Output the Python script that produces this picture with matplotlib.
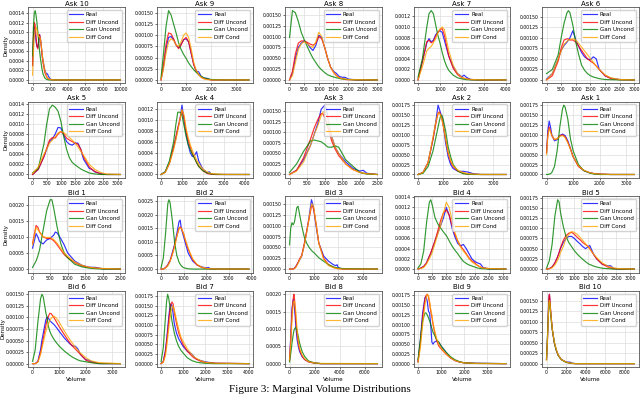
import matplotlib
matplotlib.use("Agg")
import matplotlib.pyplot as plt
from matplotlib.ticker import MaxNLocator

# density values are given in units of 1e-4
DENSITY_UNIT = 1e-4
SERIES_NAMES = ["Real", "Diff Uncond", "Gan Uncond", "Diff Cond"]
SERIES_COLORS = ["blue", "red", "green", "orange"]
TITLES = ["Ask 10", "Ask 9", "Ask 8", "Ask 7", "Ask 6",
          "Ask 5", "Ask 4", "Ask 3", "Ask 2", "Ask 1",
          "Bid 1", "Bid 2", "Bid 3", "Bid 4", "Bid 5",
          "Bid 6", "Bid 7", "Bid 8", "Bid 9", "Bid 10"]

ASK10_X = [0, 100, 200, 300, 400, 500, 600, 700, 800, 900, 1000, 1100, 1200, 1400, 1600, 1700, 1800, 2000, 2200, 2600, 10000]
ASK10_REAL = [3, 8, 11, 10, 8, 7, 6.8, 8, 9.5, 8.5, 7, 5, 4, 2, 1.2, 1.3, 0.8, 0.2, 0.05, 0, 0]
ASK10_DIFF_UNCOND = [3, 9, 12, 11.5, 9, 7, 6.5, 8, 9.5, 8.5, 7, 5, 3.5, 1.5, 0.6, 0.4, 0.2, 0.1, 0, 0, 0]
ASK10_GAN_UNCOND = [5, 11, 14, 14.5, 13.5, 12, 10, 8, 6, 4.5, 3.2, 2, 1.2, 0.4, 0.1, 0.05, 0, 0, 0, 0, 0]
ASK10_DIFF_COND = [1, 6, 9, 10.5, 11, 10.5, 9.5, 9, 9, 8.5, 7, 5.5, 4, 2, 0.8, 0.5, 0.3, 0.1, 0.05, 0, 0]

ASK9_X = [0, 100, 200, 300, 400, 500, 600, 700, 800, 900, 1000, 1100, 1200, 1300, 1400, 1500, 1600, 1700, 1800, 1900, 2000, 2500, 3500]
ASK9_REAL = [0, 3, 7, 9.5, 9.7, 9, 7.8, 7.2, 8, 9, 9.2, 8.5, 6, 3.5, 2, 1.8, 0.8, 0.4, 0.4, 0.2, 0, 0, 0]
ASK9_DIFF_UNCOND = [0, 3.5, 8, 10.5, 10.3, 9.2, 7.8, 7, 7.8, 9, 9.5, 8.5, 6, 3.5, 2, 1.2, 0.6, 0.3, 0.2, 0.1, 0, 0, 0]
ASK9_GAN_UNCOND = [0.5, 6, 12, 15.5, 14.5, 12.5, 10.5, 8.3, 6.8, 5.7, 4.8, 3.8, 3, 2.3, 1.7, 1.2, 0.8, 0.5, 0.3, 0.2, 0.1, 0, 0]
ASK9_DIFF_COND = [0, 2.5, 6, 8.5, 9.2, 8.8, 7.8, 7.5, 8.5, 10, 10.5, 9.5, 7, 4, 2.2, 1.2, 0.6, 0.3, 0.1, 0.05, 0, 0, 0]

ASK8_X = [0, 100, 200, 300, 400, 500, 600, 700, 800, 900, 1000, 1100, 1200, 1300, 1400, 1500, 1600, 1700, 1800, 1900, 2000, 2300, 3000]
ASK8_REAL = [0, 1.5, 5, 7.5, 8.5, 9, 8.5, 7.5, 6.8, 8, 10.3, 9.8, 7.5, 5, 3, 2, 1.5, 0.8, 0.6, 0.6, 0.2, 0, 0]
ASK8_DIFF_UNCOND = [0, 2, 6, 8.5, 9, 9, 8.7, 8.3, 8, 8.5, 10, 9.5, 7.5, 5, 3, 1.8, 1, 0.5, 0.3, 0.1, 0.05, 0, 0]
ASK8_GAN_UNCOND = [9.8, 16, 15.5, 13.5, 11, 9.3, 7.8, 6.3, 5, 4, 3, 2.3, 1.7, 1.2, 0.9, 0.7, 0.5, 0.35, 0.2, 0.15, 0.1, 0, 0]
ASK8_DIFF_COND = [0, 1, 4, 7, 8.3, 8.8, 8.4, 7.8, 7.5, 8.8, 11, 10, 7.5, 5, 3, 1.8, 1, 0.5, 0.3, 0.2, 0.1, 0.05, 0]

ASK7_X = [0, 200, 400, 500, 600, 700, 800, 900, 1000, 1100, 1200, 1300, 1400, 1600, 1800, 2000, 2100, 2200, 2400, 2700, 4000]
ASK7_REAL = [0, 3.5, 7, 7.8, 7.2, 7.5, 8.5, 9, 9.3, 9, 7.5, 6, 4.5, 2.5, 1.2, 0.6, 0.9, 0.5, 0.1, 0, 0]
ASK7_DIFF_UNCOND = [0, 3.5, 7.2, 7.5, 7, 7.3, 8.2, 9, 9.5, 9.7, 8.5, 6.5, 4.5, 2.2, 1, 0.4, 0.3, 0.2, 0.05, 0, 0]
ASK7_GAN_UNCOND = [0.5, 4, 10, 12.5, 13.1, 12.5, 10.5, 8.5, 7, 5.2, 3.7, 2.6, 1.8, 0.9, 0.4, 0.2, 0.1, 0.05, 0, 0, 0]
ASK7_DIFF_COND = [0, 2.5, 5.5, 6, 6.3, 7, 7.8, 8.8, 9.6, 10, 9.5, 7.5, 5.5, 2.8, 1.2, 0.5, 0.3, 0.2, 0.1, 0.03, 0]

ASK6_X = [0, 200, 400, 500, 600, 700, 750, 800, 900, 1000, 1100, 1200, 1300, 1400, 1500, 1600, 1700, 1800, 2000, 2200, 2500, 3000]
ASK6_REAL = [0.2, 1.5, 5, 7, 8.2, 9, 9.5, 10, 11.7, 9.5, 8, 6.5, 5.5, 5, 4.8, 5.5, 5, 2.5, 1, 0.4, 0.1, 0]
ASK6_DIFF_UNCOND = [0, 1, 4.5, 7.5, 9.5, 9.8, 9.7, 9.5, 9.5, 9, 8, 7, 6, 5, 4.5, 4, 3.3, 2.5, 1, 0.3, 0.05, 0]
ASK6_GAN_UNCOND = [1.5, 2.5, 6, 10, 13.5, 16, 16.5, 16, 13, 9, 6, 3.5, 2.3, 1.5, 1, 0.7, 0.5, 0.3, 0.1, 0.05, 0, 0]
ASK6_DIFF_COND = [0, 1.5, 5, 6.8, 8.5, 9.2, 9.5, 9.6, 9.8, 9.5, 8.7, 7.8, 6.9, 6, 5.1, 4.2, 3.3, 2.5, 1.2, 0.5, 0.1, 0]

ASK5_X = [0, 200, 400, 500, 600, 700, 800, 900, 1000, 1100, 1200, 1300, 1400, 1500, 1600, 1700, 1800, 2000, 2100, 2200, 2400, 2600, 3100]
ASK5_REAL = [0, 1, 3.5, 5, 6.5, 7, 8, 9.3, 9.2, 7.8, 6.5, 6, 5.8, 6.2, 6.2, 5, 3, 1.2, 1, 0.5, 0.2, 0, 0]
ASK5_DIFF_UNCOND = [0, 1, 3.5, 5.2, 6.8, 7.3, 7.2, 8, 8.5, 8, 7.2, 6.8, 6.5, 6.2, 6, 5, 3.5, 1.5, 1, 0.6, 0.1, 0, 0]
ASK5_GAN_UNCOND = [0.3, 1.2, 6, 10, 13, 13.7, 13.3, 12.5, 10.5, 7.5, 5, 3.3, 2.4, 1.9, 1.5, 1.1, 0.8, 0.3, 0.2, 0.1, 0, 0, 0]
ASK5_DIFF_COND = [0.2, 1.5, 4, 5, 6.2, 6.8, 7.5, 8.2, 8.5, 8.3, 7.8, 7.3, 6.8, 6.2, 5.5, 4.6, 3.8, 2, 1.5, 1, 0.4, 0.1, 0]

ASK4_X = [0, 200, 400, 600, 700, 800, 900, 1000, 1100, 1200, 1300, 1400, 1500, 1600, 1700, 1800, 2000, 2200, 2300, 2400, 2600, 3000, 4200]
ASK4_REAL = [0, 0.5, 2.2, 5, 6.5, 8.5, 10, 12.8, 10, 7.5, 5.5, 4, 3.3, 3.5, 4.2, 2.5, 1, 0.3, 0.5, 0.1, 0, 0, 0]
ASK4_DIFF_UNCOND = [0, 0.4, 2, 5, 6.8, 8.5, 10.2, 11.8, 10.5, 8, 6.3, 5, 3.9, 3, 2.2, 1.5, 0.7, 0.2, 0.1, 0.05, 0, 0, 0]
ASK4_GAN_UNCOND = [0, 0.5, 2.5, 6, 9, 11.5, 11.5, 11, 9, 7, 5.5, 4.5, 3.7, 3, 2.2, 1.5, 0.7, 0.3, 0.2, 0.1, 0.05, 0, 0]
ASK4_DIFF_COND = [0, 0.4, 2, 4.5, 6.2, 8, 10, 12, 11, 8.5, 6.8, 5.5, 4.4, 3.5, 2.7, 2, 1, 0.5, 0.3, 0.2, 0.1, 0.02, 0]

ASK3_X = [0, 200, 400, 600, 700, 800, 900, 950, 1000, 1050, 1100, 1200, 1300, 1400, 1500, 1600, 1800, 2000, 2100, 2200, 2500]
ASK3_REAL = [0, 1, 3.5, 7, 9.5, 12, 15.5, 16, 16.5, 15.5, 13, 9, 6.5, 5, 4, 3, 1.5, 0.8, 1, 0.3, 0]
ASK3_DIFF_UNCOND = [0, 1, 4, 8.5, 11, 13, 14.5, 14.5, 13.5, 12.5, 11, 8, 6, 4.5, 3.5, 2.5, 1.2, 0.5, 0.3, 0.2, 0]
ASK3_GAN_UNCOND = [0.5, 2.5, 5.5, 8, 8.2, 8, 7.8, 7.5, 7.2, 6.8, 6.5, 6.5, 6.8, 6.5, 5, 3.5, 2, 0.5, 0.3, 0.1, 0]
ASK3_DIFF_COND = [0, 0.8, 3, 7, 9.5, 11.5, 14, 14.8, 15, 14, 13, 9, 6.5, 5, 3.8, 2.5, 1.2, 0.5, 0.3, 0.2, 0]

ASK2_X = [0, 200, 400, 600, 700, 800, 850, 900, 950, 1000, 1100, 1200, 1300, 1400, 1600, 1800, 2000, 2200, 2500, 3500]
ASK2_REAL = [0, 0.5, 3, 9, 13, 17.5, 16.5, 15.5, 14.5, 13, 8, 4.5, 2.5, 1.5, 0.8, 0.8, 0.6, 0.2, 0, 0]
ASK2_DIFF_UNCOND = [0, 0.5, 3, 9, 12.5, 15.5, 15.8, 15, 14, 12.5, 9, 5.5, 3.2, 2, 0.8, 0.3, 0.1, 0.05, 0, 0]
ASK2_GAN_UNCOND = [0, 0.3, 2, 6, 9, 12, 13.5, 14.8, 15, 14, 11, 7, 4.5, 2.5, 0.8, 0.2, 0.05, 0, 0, 0]
ASK2_DIFF_COND = [0, 0.5, 3, 9.5, 13, 15.5, 15.5, 15, 14, 12.5, 9, 5.5, 3.5, 2.2, 1, 0.5, 0.2, 0.1, 0.02, 0]

ASK1_X = [0, 50, 100, 150, 200, 300, 400, 500, 600, 650, 700, 800, 900, 1000, 1200, 1400, 1600, 1800, 2000, 2400, 3300]
ASK1_REAL = [5.5, 11, 13.5, 12, 10, 8.5, 8.8, 9.8, 10.2, 10, 9.8, 8.5, 6.5, 4.5, 2.2, 1, 0.5, 0.2, 0.1, 0, 0]
ASK1_DIFF_UNCOND = [5.5, 10, 12, 11, 9.8, 8.8, 9, 9.8, 10, 9.8, 9.5, 8.2, 6.5, 4.5, 2, 1, 0.5, 0.2, 0.1, 0, 0]
ASK1_GAN_UNCOND = [0, 0, 0.1, 0.2, 0.5, 2, 6, 12, 16.5, 17.5, 17, 14, 9, 6, 2.5, 1, 0.4, 0.1, 0, 0, 0]
ASK1_DIFF_COND = [5, 9.5, 11.5, 10.8, 9.8, 8.8, 9, 9.6, 9.8, 9.6, 9.3, 8, 6.3, 4.5, 2.2, 1.1, 0.5, 0.2, 0.1, 0.02, 0]

BID1_X = [0, 100, 150, 200, 300, 400, 500, 550, 600, 650, 700, 800, 900, 1000, 1200, 1400, 1600, 1800, 2000, 2500]
BID1_REAL = [6.5, 11, 10, 8.5, 7.8, 9, 9.5, 10, 10.5, 11.5, 11.2, 9.5, 7.5, 5, 2.5, 1.2, 0.6, 0.5, 0.1, 0]
BID1_DIFF_UNCOND = [8, 13.5, 13, 11.5, 10, 9.5, 9.5, 9.2, 8.8, 8.2, 7.5, 6, 4.5, 3.5, 2, 1, 0.5, 0.3, 0.1, 0]
BID1_GAN_UNCOND = [0.5, 2.5, 4, 6, 12, 18, 21.5, 21.5, 19, 16, 13, 8, 5, 3.5, 1.5, 0.7, 0.3, 0.1, 0, 0]
BID1_DIFF_COND = [7.5, 12.8, 12.3, 11.5, 10, 9.8, 9.8, 9.5, 9.2, 8.6, 8, 6.5, 5, 4, 2.2, 1.2, 0.6, 0.3, 0.2, 0]

BID2_X = [0, 100, 200, 300, 350, 400, 500, 600, 700, 800, 850, 900, 1000, 1100, 1200, 1400, 1600, 1800, 2000, 2100, 2200, 2500, 3900]
BID2_REAL = [0, 0, 0.5, 1.5, 2.5, 3, 6, 9, 13, 17.5, 18, 15, 12, 9, 6, 3, 1.5, 0.8, 0.4, 0.6, 0.1, 0, 0]
BID2_DIFF_UNCOND = [0, 0, 0.5, 1.5, 2.2, 3, 5.5, 8.5, 12, 15, 15.5, 15, 13, 10, 7.5, 3.5, 1.5, 0.6, 0.2, 0.1, 0.05, 0, 0]
BID2_GAN_UNCOND = [0.5, 4, 13, 24, 25.5, 24.5, 18, 10, 5, 2.5, 1.8, 1.2, 0.5, 0.3, 0.1, 0, 0, 0, 0, 0, 0, 0, 0]
BID2_DIFF_COND = [0, 0, 0.4, 1.2, 2, 2.8, 5.2, 8.2, 12, 15, 15.2, 15, 13, 10.2, 7.8, 3.8, 1.7, 0.7, 0.3, 0.15, 0.1, 0.02, 0]

BID3_X = [0, 50, 100, 150, 200, 250, 300, 350, 400, 500, 600, 700, 800, 900, 950, 1000, 1100, 1200, 1400, 1600, 1800, 1900, 1950, 2000, 2200, 3600]
BID3_REAL = [0, 0, 0, 0, 0.2, 0.5, 1, 1.5, 2, 3, 5.5, 8.5, 12, 16, 15, 13.5, 9.5, 6, 3, 1.8, 1, 0.8, 1, 0.3, 0, 0]
BID3_DIFF_UNCOND = [0, 0, 0, 0, 0.2, 0.5, 1, 1.5, 2.2, 3.2, 5.7, 8.7, 11.5, 14.5, 14.5, 13.5, 10, 6, 2.5, 1, 0.4, 0.2, 0.1, 0.1, 0, 0]
BID3_GAN_UNCOND = [5.6, 9.5, 10.7, 10.2, 10.8, 12.5, 14.2, 14.5, 13, 10, 7.5, 6, 5, 4.3, 4, 3.8, 3.2, 2.6, 1.8, 1, 0.5, 0.35, 0.3, 0.25, 0.1, 0]
BID3_DIFF_COND = [0, 0, 0, 0, 0.1, 0.3, 0.8, 1.3, 2, 3, 5.3, 8.3, 11.8, 15, 15, 14, 10, 6, 2.2, 0.8, 0.3, 0.2, 0.1, 0.1, 0, 0]

BID4_X = [0, 100, 200, 300, 400, 450, 500, 600, 700, 800, 900, 1000, 1100, 1200, 1300, 1400, 1500, 1600, 1700, 1800, 1900, 2000, 2100, 2200, 2300, 2500, 3100]
BID4_REAL = [0, 0.2, 0.5, 1.2, 2.5, 3, 3.8, 5.5, 7, 8.5, 10, 12, 10.5, 8, 6.3, 5, 4.5, 4.8, 4, 3, 2, 1.5, 1.2, 1, 0.3, 0, 0]
BID4_DIFF_UNCOND = [0, 0.2, 0.5, 1.2, 2.5, 3.2, 4, 5.5, 7.5, 9.5, 11, 11.5, 10.5, 8.5, 6.8, 5.5, 4.5, 3.8, 3, 2.2, 1.6, 1.2, 0.7, 0.4, 0.2, 0.1, 0]
BID4_GAN_UNCOND = [0.2, 1, 3.5, 9, 13, 13.5, 12.5, 10, 8.8, 8, 7.2, 6.5, 5.5, 4.5, 3.7, 3, 2.2, 1.5, 1.1, 0.8, 0.6, 0.4, 0.2, 0.1, 0.05, 0, 0]
BID4_DIFF_COND = [0, 0.1, 0.3, 1, 2, 2.6, 3.2, 5, 6.8, 8.5, 11, 13, 12, 9.5, 7.2, 5.5, 4.3, 3.5, 2.8, 2, 1.4, 1, 0.7, 0.4, 0.2, 0.1, 0]

BID5_X = [0, 100, 200, 300, 400, 450, 500, 600, 700, 800, 900, 1000, 1100, 1200, 1300, 1400, 1500, 1550, 1600, 1700, 1800, 2000, 2200, 2300, 2400, 2600, 3150]
BID5_REAL = [0, 0.1, 0.5, 1.5, 3, 4, 5, 6.5, 7.5, 8, 8, 7.5, 6.8, 6.2, 5.5, 5, 5.5, 5.8, 5, 3.5, 2.5, 1.2, 0.8, 0.8, 0.2, 0, 0]
BID5_DIFF_UNCOND = [0, 0.1, 0.5, 1.5, 3, 4, 5.2, 7, 8.2, 8.8, 9, 8.5, 7.8, 7.2, 6.5, 6, 5.5, 5, 4.5, 3.5, 2.5, 1.2, 0.5, 0.3, 0.1, 0, 0]
BID5_GAN_UNCOND = [0.2, 2, 6, 13, 17, 16.5, 14, 10.5, 8, 6.5, 5.5, 4.5, 3.7, 3, 2.4, 1.8, 1.3, 1.1, 1, 0.7, 0.5, 0.2, 0.1, 0.05, 0, 0, 0]
BID5_DIFF_COND = [0, 0.05, 0.3, 1, 2.2, 3, 4, 5.5, 7.5, 8.5, 9.2, 9, 8.5, 7.8, 7, 6.2, 5.4, 5, 4.5, 3.6, 2.8, 1.5, 0.7, 0.5, 0.3, 0.1, 0]

BID6_X = [0, 100, 200, 300, 350, 400, 500, 550, 600, 650, 700, 800, 900, 1000, 1200, 1400, 1500, 1600, 1700, 1800, 2000, 2100, 2200, 2500, 3300]
BID6_REAL = [0, 0, 0.5, 3, 5, 6.5, 9.5, 10.1, 9.8, 9.3, 9, 8.5, 7.8, 7, 5.5, 4.3, 3.8, 3.8, 3.2, 2, 0.8, 0.8, 0.5, 0, 0]
BID6_DIFF_UNCOND = [0, 0, 0.4, 2.3, 3.8, 5.3, 8.3, 9.5, 10.3, 10.9, 10.8, 10, 9, 8, 6.2, 4.5, 3.8, 3.2, 2.6, 2, 0.8, 0.5, 0.3, 0.05, 0]
BID6_GAN_UNCOND = [0.5, 3, 9, 14, 15, 14.5, 11, 9.8, 8, 7, 6.3, 5.3, 4.5, 3.8, 2.7, 1.8, 1.4, 1.1, 0.8, 0.6, 0.4, 0.3, 0.2, 0, 0]
BID6_DIFF_COND = [0, 0, 0.3, 2, 3.3, 4.5, 7, 7.9, 8.6, 9.3, 9.8, 10.3, 9.8, 9, 7, 5.2, 4.4, 3.6, 2.9, 2.3, 1.3, 0.9, 0.6, 0.2, 0]

BID7_X = [0, 100, 200, 250, 300, 350, 400, 450, 500, 550, 600, 700, 800, 900, 1000, 1200, 1400, 1500, 1600, 1800, 2000, 2200, 2500, 4000]
BID7_REAL = [0, 0.5, 3.5, 6, 9, 12, 14.5, 15.5, 15, 13, 10.5, 8, 6.5, 5.5, 4.5, 3.2, 2.5, 1.8, 1.2, 0.8, 0.5, 0.3, 0.1, 0]
BID7_DIFF_UNCOND = [0, 0.5, 3, 5.5, 8, 11, 13.5, 15.5, 16, 15.5, 13.5, 10.5, 8, 6.5, 5, 3.2, 2, 1.5, 1.2, 0.6, 0.3, 0.2, 0.1, 0]
BID7_GAN_UNCOND = [0.5, 4, 12, 16, 18, 17, 15, 13, 11, 9.5, 8, 6, 4.5, 3.5, 2.8, 1.5, 0.8, 0.6, 0.4, 0.2, 0.1, 0.05, 0, 0]
BID7_DIFF_COND = [0, 0.3, 2, 4, 6.5, 9, 11.5, 13.5, 14.5, 15, 14, 11.5, 9, 7, 5.8, 3.8, 2.4, 1.8, 1.4, 0.8, 0.4, 0.2, 0.1, 0]

BID8_X = [0, 100, 200, 300, 350, 400, 500, 600, 700, 800, 1000, 1200, 1500, 2000, 2500, 7000]
BID8_REAL = [1, 8, 16, 18.5, 17, 16, 11, 7, 5, 3.5, 2, 1.2, 0.6, 0.2, 0, 0]
BID8_DIFF_UNCOND = [1, 7, 15, 19, 20, 18.5, 13, 8.5, 6, 4, 2.2, 1.2, 0.5, 0.1, 0, 0]
BID8_GAN_UNCOND = [0.5, 3, 6, 8.5, 9.5, 10, 10.5, 9.5, 7.8, 6, 3.5, 2.1, 0.8, 0.15, 0.02, 0]
BID8_DIFF_COND = [1, 6, 13, 17.5, 18, 18, 15, 10, 6.5, 4.5, 2.5, 1.4, 0.6, 0.2, 0.05, 0]

BID9_X = [0, 100, 200, 300, 350, 400, 450, 500, 550, 600, 650, 700, 800, 900, 1000, 1200, 1400, 1600, 1800, 2000, 2500, 3800]
BID9_REAL = [0.5, 6, 13, 17, 17.2, 16, 13.5, 13, 10, 5.5, 5, 5.5, 5.8, 5.5, 4.5, 3, 1.5, 0.8, 0.4, 0.2, 0.1, 0]
BID9_DIFF_UNCOND = [0.5, 5, 12, 16.5, 17.5, 17.8, 17.2, 15.5, 13.5, 12, 10, 8.5, 6, 4.5, 3.8, 2.5, 1.5, 0.8, 0.4, 0.2, 0.05, 0]
BID9_GAN_UNCOND = [1, 6, 11, 13, 13, 12.5, 11.8, 11, 10, 9, 8, 7.5, 6.2, 5.5, 4.5, 3, 1.8, 1, 0.5, 0.2, 0.05, 0]
BID9_DIFF_COND = [0.3, 4, 10, 15, 16.8, 17.8, 17.5, 16, 14, 12.5, 10.5, 9, 6.5, 5, 4, 2.6, 1.5, 0.8, 0.4, 0.2, 0.05, 0]

BID10_X = [0, 100, 200, 250, 300, 350, 400, 500, 600, 800, 1000, 1200, 1500, 2000, 2400, 2600, 3000, 9000]
BID10_REAL = [1, 6, 13, 15.5, 16.5, 15, 13, 10.5, 8, 5, 3.2, 2, 1, 0.4, 0.35, 0.1, 0, 0]
BID10_DIFF_UNCOND = [1, 6, 13, 16, 16.5, 15.5, 13.5, 10.5, 8, 5, 3.2, 2, 1, 0.35, 0.1, 0.05, 0, 0]
BID10_GAN_UNCOND = [1, 6.5, 12, 14, 14.8, 14, 12.5, 10, 8, 5, 3.2, 2, 1, 0.3, 0.1, 0.05, 0, 0]
BID10_DIFF_COND = [0.8, 5.5, 12, 14.5, 15, 14.5, 13, 10.5, 8.2, 5.2, 3.4, 2.1, 1, 0.4, 0.15, 0.05, 0, 0]

PANELS = [
    (ASK10_X, ASK10_REAL, ASK10_DIFF_UNCOND, ASK10_GAN_UNCOND, ASK10_DIFF_COND),
    (ASK9_X, ASK9_REAL, ASK9_DIFF_UNCOND, ASK9_GAN_UNCOND, ASK9_DIFF_COND),
    (ASK8_X, ASK8_REAL, ASK8_DIFF_UNCOND, ASK8_GAN_UNCOND, ASK8_DIFF_COND),
    (ASK7_X, ASK7_REAL, ASK7_DIFF_UNCOND, ASK7_GAN_UNCOND, ASK7_DIFF_COND),
    (ASK6_X, ASK6_REAL, ASK6_DIFF_UNCOND, ASK6_GAN_UNCOND, ASK6_DIFF_COND),
    (ASK5_X, ASK5_REAL, ASK5_DIFF_UNCOND, ASK5_GAN_UNCOND, ASK5_DIFF_COND),
    (ASK4_X, ASK4_REAL, ASK4_DIFF_UNCOND, ASK4_GAN_UNCOND, ASK4_DIFF_COND),
    (ASK3_X, ASK3_REAL, ASK3_DIFF_UNCOND, ASK3_GAN_UNCOND, ASK3_DIFF_COND),
    (ASK2_X, ASK2_REAL, ASK2_DIFF_UNCOND, ASK2_GAN_UNCOND, ASK2_DIFF_COND),
    (ASK1_X, ASK1_REAL, ASK1_DIFF_UNCOND, ASK1_GAN_UNCOND, ASK1_DIFF_COND),
    (BID1_X, BID1_REAL, BID1_DIFF_UNCOND, BID1_GAN_UNCOND, BID1_DIFF_COND),
    (BID2_X, BID2_REAL, BID2_DIFF_UNCOND, BID2_GAN_UNCOND, BID2_DIFF_COND),
    (BID3_X, BID3_REAL, BID3_DIFF_UNCOND, BID3_GAN_UNCOND, BID3_DIFF_COND),
    (BID4_X, BID4_REAL, BID4_DIFF_UNCOND, BID4_GAN_UNCOND, BID4_DIFF_COND),
    (BID5_X, BID5_REAL, BID5_DIFF_UNCOND, BID5_GAN_UNCOND, BID5_DIFF_COND),
    (BID6_X, BID6_REAL, BID6_DIFF_UNCOND, BID6_GAN_UNCOND, BID6_DIFF_COND),
    (BID7_X, BID7_REAL, BID7_DIFF_UNCOND, BID7_GAN_UNCOND, BID7_DIFF_COND),
    (BID8_X, BID8_REAL, BID8_DIFF_UNCOND, BID8_GAN_UNCOND, BID8_DIFF_COND),
    (BID9_X, BID9_REAL, BID9_DIFF_UNCOND, BID9_GAN_UNCOND, BID9_DIFF_COND),
    (BID10_X, BID10_REAL, BID10_DIFF_UNCOND, BID10_GAN_UNCOND, BID10_DIFF_COND),
]

CAPTION = "Figure 3: Marginal Volume Distributions"

plt.rcParams['font.family'] = ['DejaVu Sans']
fig, axes = plt.subplots(4, 5, figsize=(6.4, 3.96), dpi=100)
fig.subplots_adjust(left=0.044, right=0.998, top=0.982, bottom=0.073,
                    wspace=0.33, hspace=0.24)

for i, ax in enumerate(axes.flat):
    x, *ys = PANELS[i]
    for name, color, y in zip(SERIES_NAMES, SERIES_COLORS, ys):
        ax.plot(x, [v * DENSITY_UNIT for v in y], color=color, lw=0.85,
                alpha=0.8, label=name)
    ax.set_title(TITLES[i], fontsize=5, pad=1)
    ax.xaxis.set_major_locator(MaxNLocator(nbins=7, steps=[1, 2, 2.5, 5, 10]))
    ax.yaxis.set_major_locator(MaxNLocator(nbins=8, steps=[1, 2, 2.5, 5, 10]))
    ax.tick_params(labelsize=3.3, length=1.5, width=0.4, pad=0.8)
    ax.grid(True, color='#dddddd', lw=0.5)
    ax.set_axisbelow(True)
    for s in ax.spines.values():
        s.set_linewidth(0.6)
        s.set_color('#555555')
    ax.legend(loc='upper right', fontsize=4, handlelength=2.4,
              labelspacing=0.45, borderpad=0.4, handletextpad=0.6,
              framealpha=0.85, edgecolor='#cccccc', fancybox=True)
    if i % 5 == 0:
        ax.set_ylabel("Density", fontsize=4, labelpad=0.5)
    if i >= 15:
        ax.set_xlabel("Volume", fontsize=4, labelpad=1.2)

fig.text(0.5, 0.004, CAPTION, ha='center', va='bottom', fontsize=8,
         family='Liberation Serif')

fig.savefig("out.png", dpi=100)
